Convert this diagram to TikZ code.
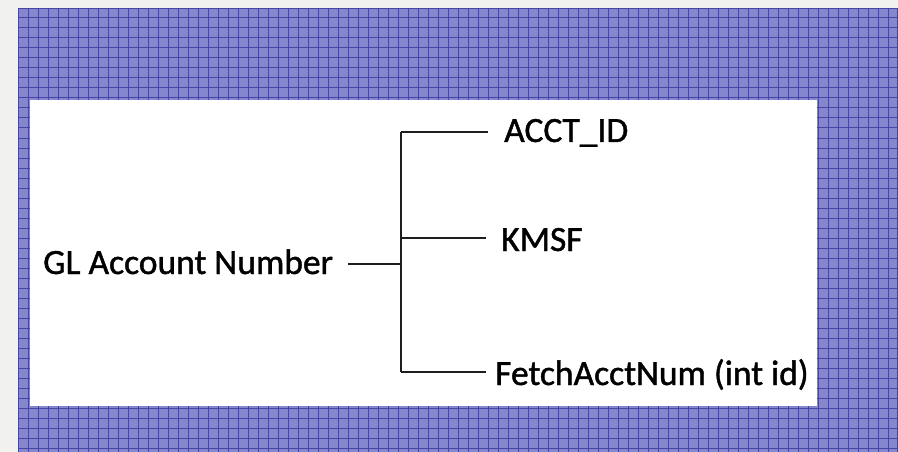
\documentclass[tikz,border=0pt]{standalone}
\usepackage{fontspec}
\setmainfont{Carlito}
\newfontfamily\lblfont[FakeBold=1.2]{Carlito}
\definecolor{tilebg}{HTML}{8686CC}
\definecolor{tileline}{HTML}{4545A8}
\definecolor{paleedge}{HTML}{F1F2EF}
\definecolor{treeline}{HTML}{1E1E1E}
\tikzset{
  lbl/.style={anchor=base west, inner sep=0pt, font=\lblfont\fontsize{35.5}{40}\selectfont, text=black},
  branch/.style={draw=treeline, line width=1.8pt},
}
\begin{document}
\begin{tikzpicture}[x=1pt,y=-1pt]
\useasboundingbox (0,0) rectangle (898,452);
% pale outer edge
\fill[paleedge] (0,0) rectangle (898,452);
% patterned blue background
\fill[tilebg] (18,8) rectangle (898,452);
\begin{scope}
\clip (18,8) rectangle (898,452);
\draw[tileline, line width=1pt, step=10pt, xshift=18pt, yshift=-8pt] (0,0) grid (880,444);
\end{scope}
% white panel
\fill[white] (30,100) rectangle (817,406);
% labels
\node[lbl] (gl) at (43,274) {GL Account Number};
\node[lbl] (acct) at (504,142) {ACCT\_ID};
\node[lbl] (kmsf) at (501,251) {KMSF};
\node[lbl] (fetch) at (495,385) {FetchAcctNum (int id)};
% tree junctions
\coordinate (gs) at (348,264);
\coordinate (j) at (401,264);
\coordinate (jt) at (401,132);
\coordinate (jm) at (401,238);
\coordinate (jb) at (401,372);
\coordinate (et) at (488,132);
\coordinate (em) at (486,238);
\coordinate (eb) at (486,372);
\draw[branch] (gs) -- (j);
\draw[branch] (jt) -- (jb);
\draw[branch] (jt) -- (et);
\draw[branch] (jm) -- (em);
\draw[branch] (jb) -- (eb);
\end{tikzpicture}
\end{document}
